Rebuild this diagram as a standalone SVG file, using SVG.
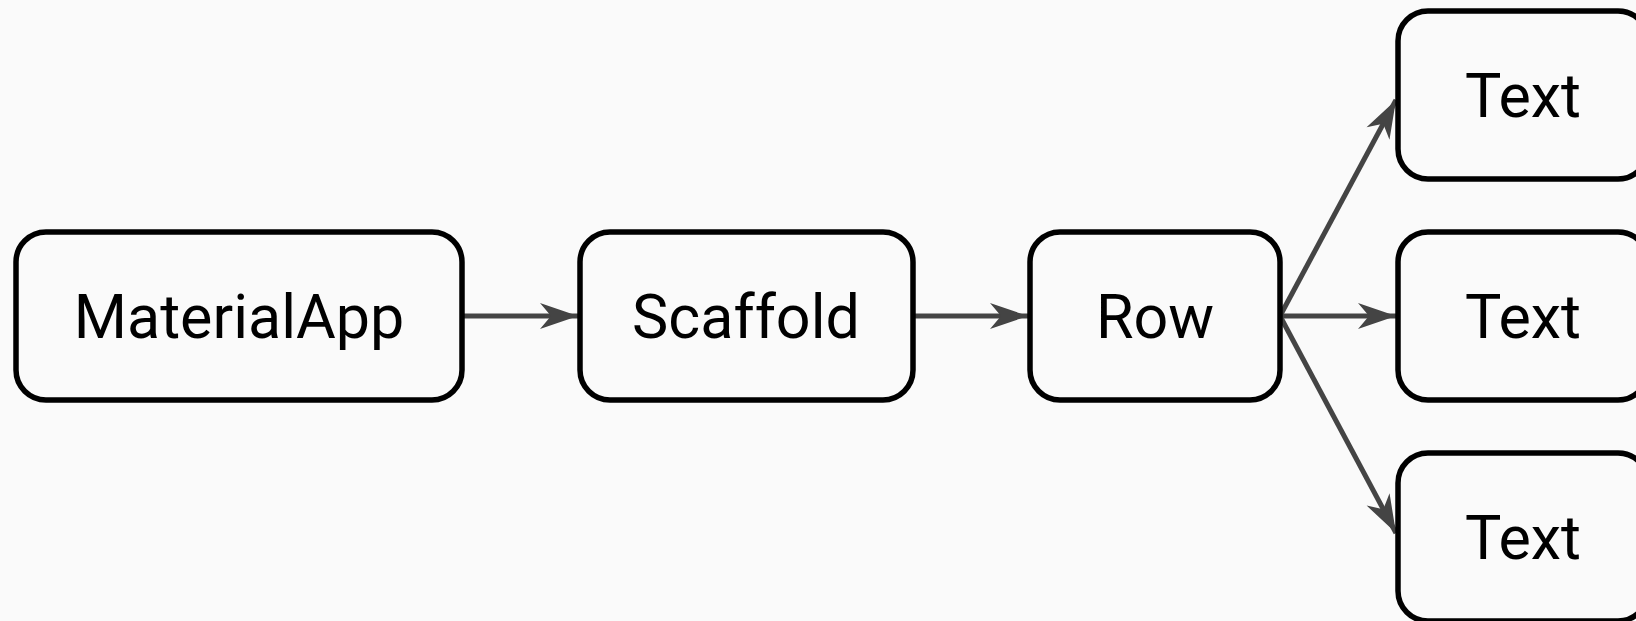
<svg xmlns="http://www.w3.org/2000/svg" width="1636" height="621" viewBox="0 0 1636 621">
  <defs>
    <style>
      .box { fill: #fafafa; stroke: #000; stroke-width: 5.5; }
      .label { font-family: Roboto, "Liberation Sans", sans-serif; font-size: 61px; fill: #000; text-anchor: middle; }
      .edge { fill: none; stroke: #444; stroke-width: 5; }
    </style>
    <marker id="arrow" markerUnits="userSpaceOnUse" viewBox="-40 -14 42 28" refX="0" refY="0" markerWidth="42" markerHeight="28" orient="auto">
      <path d="M-38,-13 L0,0 L-38,13 L-27,0 Z" fill="#444"/>
    </marker>
  </defs>
  <rect width="1636" height="621" fill="#fafafa"/>

  <g id="edges">
    <line class="edge" x1="462" y1="316" x2="578" y2="316" marker-end="url(#arrow)"/>
    <line class="edge" x1="913" y1="316" x2="1028" y2="316" marker-end="url(#arrow)"/>
    <line class="edge" x1="1280" y1="316" x2="1396" y2="316" marker-end="url(#arrow)"/>
    <line class="edge" x1="1280" y1="316" x2="1396" y2="100" marker-end="url(#arrow)"/>
    <line class="edge" x1="1280" y1="316" x2="1396" y2="533" marker-end="url(#arrow)"/>
  </g>

  <g id="materialapp">
    <rect class="box" x="16" y="232" width="446" height="168" rx="30"/>
    <text class="label" x="239" y="338">MaterialApp</text>
  </g>
  <g id="scaffold">
    <rect class="box" x="580" y="232" width="333" height="168" rx="30"/>
    <text class="label" x="746" y="338">Scaffold</text>
  </g>
  <g id="row">
    <rect class="box" x="1030" y="232" width="250" height="168" rx="30"/>
    <text class="label" x="1155" y="338">Row</text>
  </g>
  <g id="text-top">
    <rect class="box" x="1398" y="11" width="250" height="168" rx="30"/>
    <text class="label" x="1523" y="117">Text</text>
  </g>
  <g id="text-middle">
    <rect class="box" x="1398" y="232" width="250" height="168" rx="30"/>
    <text class="label" x="1523" y="338">Text</text>
  </g>
  <g id="text-bottom">
    <rect class="box" x="1398" y="453" width="250" height="168" rx="30"/>
    <text class="label" x="1523" y="559">Text</text>
  </g>
</svg>
